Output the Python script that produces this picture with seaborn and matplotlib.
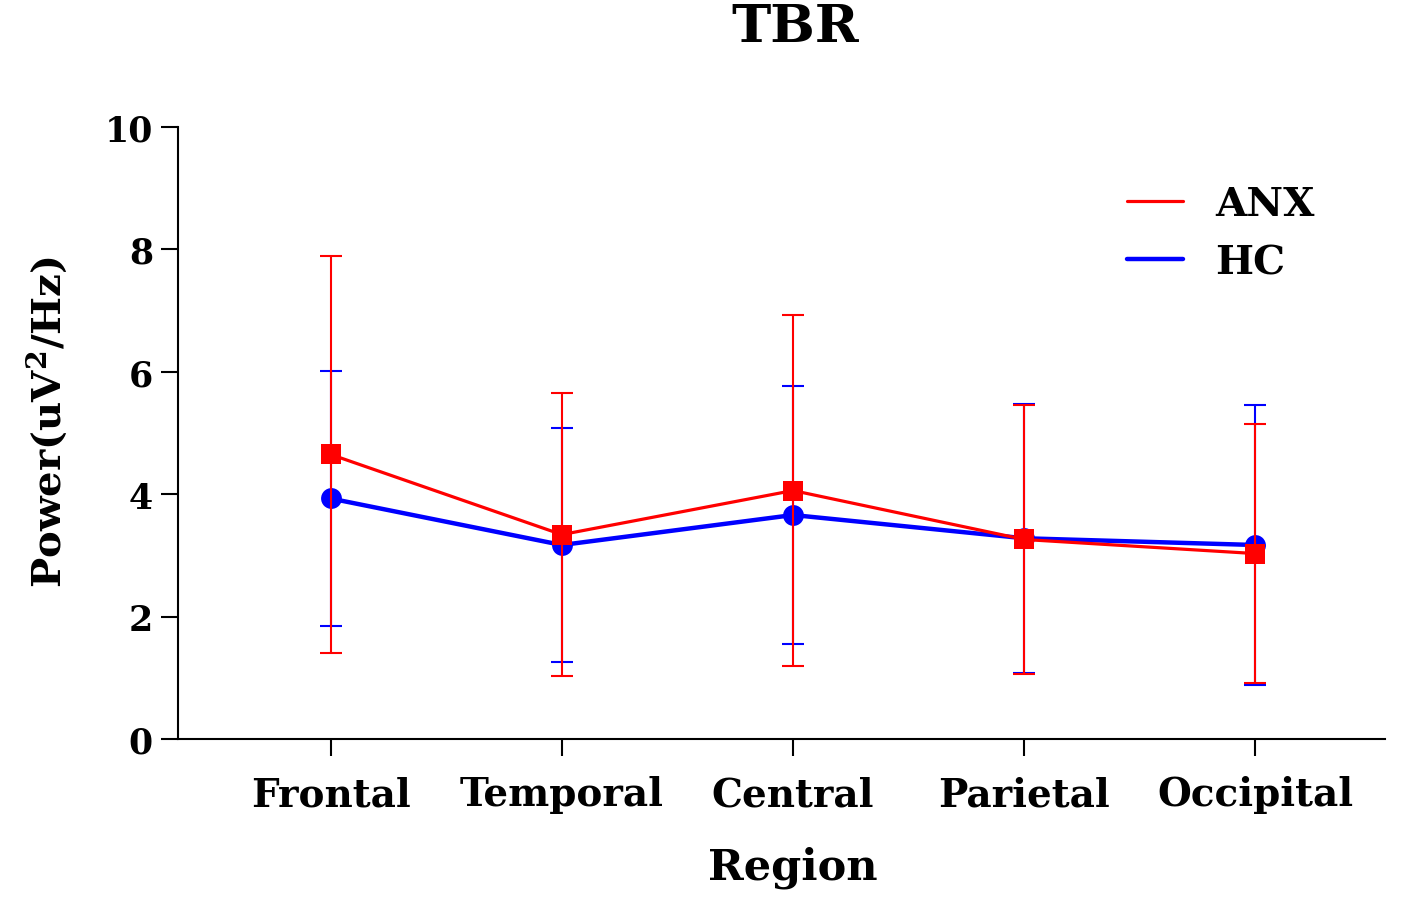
import matplotlib
matplotlib.use("Agg")
import matplotlib.pyplot as plt
import seaborn as sns
import pandas as pd

# values (mean +/- SD)
regions = ["Frontal", "Temporal", "Central", "Parietal", "Occipital"]
anx_mean = [4.65, 3.34, 4.06, 3.26, 3.03]
anx_sd = [3.25, 2.31, 2.87, 2.19, 2.11]
hc_mean = [3.93, 3.17, 3.66, 3.28, 3.17]
hc_sd = [2.08, 1.91, 2.11, 2.20, 2.29]

sns.set_style("white")
plt.rcParams["font.family"] = ["DejaVu Serif"]
plt.rcParams["font.weight"] = "bold"
plt.rcParams["text.color"] = "black"
plt.rcParams["xtick.color"] = "black"
plt.rcParams["ytick.color"] = "black"
plt.rcParams["mathtext.fontset"] = "dejavuserif"
plt.rcParams["mathtext.default"] = "bf"

df = pd.DataFrame({
    "Region": regions * 2,
    "Power": hc_mean + anx_mean,
    "Group": ["HC"] * 5 + ["ANX"] * 5,
})

fig = plt.figure(figsize=(14.17, 9.04), dpi=100)
ax = fig.add_axes([0.1256, 0.1814, 0.8518, 0.677])

# HC underneath, ANX on top
ax.errorbar(regions, hc_mean, yerr=hc_sd, fmt="none", ecolor="#0000ff",
            elinewidth=1.5, capsize=8, capthick=1.5, zorder=2)
sns.lineplot(data=df[df.Group == "HC"], x="Region", y="Power", color="#0000ff",
             linewidth=3.2, marker="o", markersize=15, markeredgewidth=0,
             ax=ax, label="HC", zorder=3)
ax.errorbar(regions, anx_mean, yerr=anx_sd, fmt="none", ecolor="#ff0000",
            elinewidth=1.5, capsize=8, capthick=1.5, zorder=4)
sns.lineplot(data=df[df.Group == "ANX"], x="Region", y="Power", color="#ff0000",
             linewidth=2.3, marker="s", markersize=15, markeredgewidth=0,
             ax=ax, label="ANX", zorder=5)

ax.set_xlim(-0.66, 4.56)
ax.set_ylim(0, 10)
ax.set_yticks([0, 2, 4, 6, 8, 10])
sns.despine(ax=ax)
for s in ["left", "bottom"]:
    ax.spines[s].set_linewidth(1.5)
    ax.spines[s].set_color("black")
ax.tick_params(axis="both", direction="out", length=12, width=1.5,
               color="black", bottom=True, left=True)
ax.tick_params(axis="x", labelsize=28, pad=14)
ax.tick_params(axis="y", labelsize=25, pad=6)
ax.set_xlabel("")
ax.set_ylabel("")

fig.text(47 / 1417, 1 - 422 / 904, r"Power(uV$^{2}$/Hz)", rotation=90,
         ha="center", va="center", fontsize=29, fontweight="bold")
fig.text(793 / 1417, 1 - 868 / 904, "Region", ha="center", va="center",
         fontsize=31, fontweight="bold")
fig.text(795 / 1417, 1 - 28 / 904, "TBR", ha="center", va="center",
         fontsize=38, fontweight="bold")

handles, labels = ax.get_legend_handles_labels()
order = [labels.index("ANX"), labels.index("HC")]
leg = ax.legend([handles[i] for i in order], [labels[i] for i in order],
                loc="upper left", bbox_to_anchor=(1127 / 1417, 1 - 186 / 904),
                bbox_transform=fig.transFigure, frameon=False, fontsize=29,
                handlelength=1.4, handletextpad=0.8, labelspacing=0.5,
                borderpad=0, borderaxespad=0)
for line in leg.get_lines():
    line.set_marker("")

fig.savefig("out.png", dpi=100)
